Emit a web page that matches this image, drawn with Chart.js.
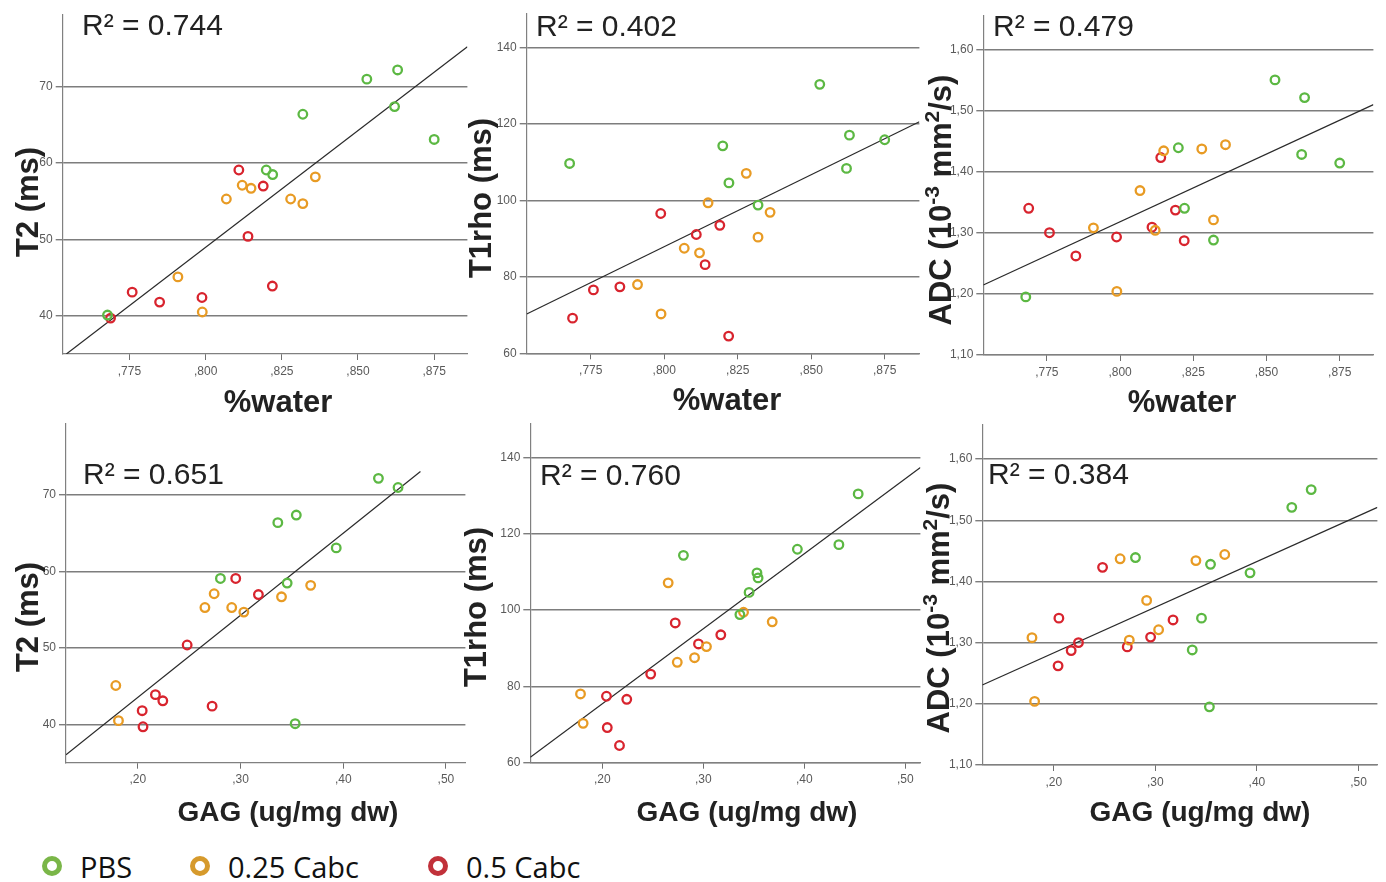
<!DOCTYPE html>
<html>
<head>
<meta charset="utf-8">
<script src="https://cdn.jsdelivr.net/npm/chart.js@4"></script>
<style>
  body { margin: 0; background: #fff; width: 1386px; height: 882px; position: relative; overflow: hidden; }
  canvas { position: absolute; }
  .leg { position: absolute; top: 846px; height: 40px; display: flex; align-items: center;
         font-family: "Open Sans", "Noto Sans", sans-serif; font-size: 29px; color: #111; }
  .leg .dot { width: 20px; height: 20px; box-sizing: border-box; border: 5px solid; border-radius: 50%; margin-right: 18px; }
</style>
</head>
<body>
<script>
// values, one entry per sample (same order in every array of a group)
const groups = ["PBS", "0.25 Cabc", "0.5 Cabc"];

const pbsWater = [0.7678, 0.8529, 0.8630, 0.8620, 0.8319, 0.8750, 0.8199, 0.8220];
const pbsGag   = [0.3532, 0.4534, 0.4343, 0.3543, 0.3363, 0.3932, 0.2804, 0.3454];
const pbsT2    = [40.1, 71.0, 72.2, 67.4, 66.4, 63.1, 59.1, 58.5];
const pbsT1rho = [109.7, 130.4, 117.1, 108.4, 98.8, 115.9, 114.3, 104.6];
const pbsAdc   = [1.195, 1.550, 1.521, 1.428, 1.288, 1.414, 1.439, 1.340];

const c25Water = [0.8068, 0.8120, 0.8149, 0.8279, 0.8319, 0.8360, 0.7909, 0.7989];
const c25Gag   = [0.2914, 0.2743, 0.3399, 0.2653, 0.3032, 0.3683, 0.1785, 0.1811];
const c25T2    = [55.3, 57.1, 56.7, 55.3, 54.7, 58.2, 45.1, 40.5];
const c25T1rho = [87.5, 86.3, 99.4, 107.1, 90.4, 96.9, 78.0, 70.3];
const c25Adc   = [1.369, 1.304, 1.434, 1.437, 1.321, 1.444, 1.308, 1.204];

const c50Water = [0.8109, 0.8189, 0.8139, 0.8219, 0.7759, 0.7849, 0.7988, 0.7688];
const c50Gag   = [0.2953, 0.3174, 0.2480, 0.2171, 0.2243, 0.2042, 0.2723, 0.2050];
const c50T2    = [59.1, 57.0, 50.4, 43.9, 43.1, 41.8, 42.4, 39.7];
const c50T1rho = [91.1, 93.5, 83.2, 64.5, 76.6, 77.4, 96.6, 69.2];
const c50Adc   = [1.309, 1.337, 1.423, 1.287, 1.300, 1.262, 1.293, 1.340];

// fit line end points: x0, y0, x1, y1
const fitT2Water    = [0.7543, 35.0, 0.8859, 75.24];
const fitT1rhoWater = [0.7532, 70.3, 0.8868, 120.6];
const fitAdcWater   = [0.7533, 1.2145, 0.8865, 1.5095];
const fitT2Gag      = [0.1300, 36.03, 0.4752, 73.1];
const fitT1rhoGag   = [0.1288, 61.4, 0.5150, 137.3];
const fitAdcGag     = [0.1296, 1.2307, 0.5186, 1.5210];

const r2Labels = ["0.744", "0.402", "0.479", "0.651", "0.760", "0.384"];

// tick labels
const waterTicks = [0.775, 0.800, 0.825, 0.850, 0.875];
const gagTicks   = [0.20, 0.30, 0.40, 0.50];
const t2Ticks    = [40, 50, 60, 70];
const t1rhoTicks = [60, 80, 100, 120, 140];
const adcTicks   = [1.10, 1.20, 1.30, 1.40, 1.50, 1.60];

const pointColors  = ["#5cb843", "#e89b24", "#d8242e"];
const legendColors = ["#7ab648", "#d69a2c", "#c1313a"];
const sans = '"Liberation Sans", Arial, sans-serif';

const fmtWater = v => "," + Math.round(v * 1000);
const fmtGag = v => "," + Math.round(v * 100);
const fmtInt = v => String(Math.round(v));
const fmtAdc = v => v.toFixed(2).replace(".", ",");

const waterX = [pbsWater, c25Water, c50Water];
const gagX = [pbsGag, c25Gag, c50Gag];

const t2Title = [{ t: "T2 (ms)" }];
const t1Title = [{ t: "T1rho (ms)" }];
const adcTitle = [{ t: "ADC (10" }, { t: "-3", sup: 1 }, { t: " mm" }, { t: "2", sup: 1 }, { t: "/s)" }];

const panels = [
  { area: [62.7, 15, 470, 354], xr: [0.7531, 0.8859], yr: [35, 79.4], xs: waterX, ys: [pbsT2, c25T2, c50T2],
    fit: fitT2Water, xt: waterTicks, yt: t2Ticks, xf: fmtWater, yf: fmtInt,
    xTitle: "%water", xSize: 31, xPos: [278, 403], yTitle: t2Title, yPos: [27, 202], r2: r2Labels[0], r2Pos: [82, 35] },
  { area: [526.7, 13.3, 921.7, 353.3], xr: [0.7532, 0.8868], yr: [60, 149], xs: waterX, ys: [pbsT1rho, c25T1rho, c50T1rho],
    fit: fitT1rhoWater, xt: waterTicks, yt: t1rhoTicks, xf: fmtWater, yf: fmtInt,
    xTitle: "%water", xSize: 31, xPos: [727, 401], yTitle: t1Title, yPos: [480, 198], r2: r2Labels[1], r2Pos: [536, 36] },
  { area: [983.3, 16, 1376, 355], xr: [0.7533, 0.8865], yr: [1.10, 1.6545], xs: waterX, ys: [pbsAdc, c25Adc, c50Adc],
    fit: fitAdcWater, xt: waterTicks, yt: adcTicks, xf: fmtWater, yf: fmtAdc,
    xTitle: "%water", xSize: 31, xPos: [1182, 403], yTitle: adcTitle, yPos: [940, 200], r2: r2Labels[2], r2Pos: [993, 36] },
  { area: [66, 423.3, 468, 762.7], xr: [0.13, 0.519], yr: [35, 79.4], xs: gagX, ys: [pbsT2, c25T2, c50T2],
    fit: fitT2Gag, xt: gagTicks, yt: t2Ticks, xf: fmtGag, yf: fmtInt,
    xTitle: "GAG (ug/mg dw)", xSize: 28, xPos: [288, 813], yTitle: t2Title, yPos: [27, 617], r2: r2Labels[3], r2Pos: [83, 484] },
  { area: [530.3, 424, 922.7, 762.7], xr: [0.1288, 0.515], yr: [60, 148.7], xs: gagX, ys: [pbsT1rho, c25T1rho, c50T1rho],
    fit: fitT1rhoGag, xt: gagTicks, yt: t1rhoTicks, xf: fmtGag, yf: fmtInt,
    xTitle: "GAG (ug/mg dw)", xSize: 28, xPos: [747, 813], yTitle: t1Title, yPos: [475, 607], r2: r2Labels[4], r2Pos: [540, 485] },
  { area: [982.3, 425, 1380, 765], xr: [0.1296, 0.5186], yr: [1.10, 1.6556], xs: gagX, ys: [pbsAdc, c25Adc, c50Adc],
    fit: fitAdcGag, xt: gagTicks, yt: adcTicks, xf: fmtGag, yf: fmtAdc,
    xTitle: "GAG (ug/mg dw)", xSize: 28, xPos: [1200, 813], yTitle: adcTitle, yPos: [938, 608], r2: r2Labels[5], r2Pos: [988, 484] }
];

function drawRich(ctx, segs, size) {
  const big = "bold " + size + "px " + sans;
  const small = "bold " + Math.round(size * 0.68) + "px " + sans;
  let total = 0;
  segs.forEach(s => { ctx.font = s.sup ? small : big; s.w = ctx.measureText(s.t).width; total += s.w; });
  let x = -total / 2;
  const base = size * 0.36;
  segs.forEach(s => {
    ctx.font = s.sup ? small : big;
    ctx.fillText(s.t, x, s.sup ? base - size * 0.38 : base);
    x += s.w;
  });
}

function textPlugin(p, ox, oy) {
  return {
    id: "panelText",
    afterDraw(chart) {
      const ctx = chart.ctx;
      ctx.save();
      ctx.fillStyle = "#222";
      ctx.textAlign = "left";
      ctx.textBaseline = "alphabetic";
      ctx.font = "30px " + sans;
      ctx.fillText("R\u00b2 = " + p.r2, p.r2Pos[0] - ox, p.r2Pos[1] - oy);
      ctx.font = "bold " + p.xSize + "px " + sans;
      ctx.textAlign = "center";
      ctx.textBaseline = "middle";
      ctx.fillText(p.xTitle, p.xPos[0] - ox, p.xPos[1] - oy);
      ctx.translate(p.yPos[0] - ox, p.yPos[1] - oy);
      ctx.rotate(-Math.PI / 2);
      ctx.textAlign = "left";
      ctx.textBaseline = "alphabetic";
      drawRich(ctx, p.yTitle, 31);
      ctx.restore();
    }
  };
}

function zeroPad(s) { s.paddingLeft = 0; s.paddingRight = 0; s.paddingTop = 0; s.paddingBottom = 0; }

panels.forEach(p => {
  const [l, t, r, b] = p.area;
  const cx = Math.floor(l) - 66, cy = Math.floor(t) - 16;
  const cw = Math.ceil(r) + 4 - cx, ch = Math.ceil(b) + 72 - cy;
  const yw = l - cx, xh = cy + ch - b;
  const cv = document.createElement("canvas");
  cv.width = cw; cv.height = ch;
  cv.style.left = cx + "px"; cv.style.top = cy + "px";
  document.body.appendChild(cv);

  const datasets = groups.map((g, i) => ({
    label: g,
    data: p.xs[i].map((x, k) => ({ x: x, y: p.ys[i][k] })),
    borderColor: pointColors[i],
    backgroundColor: "rgba(0,0,0,0)",
    pointRadius: 4.3,
    pointHoverRadius: 4.3,
    pointBorderWidth: 2.3
  }));
  datasets.push({
    label: "fit",
    data: [{ x: p.fit[0], y: p.fit[1] }, { x: p.fit[2], y: p.fit[3] }],
    showLine: true,
    borderColor: "#2a2a2a",
    borderWidth: 1.2,
    pointRadius: 0
  });

  new Chart(cv, {
    type: "scatter",
    data: { datasets: datasets },
    options: {
      responsive: false,
      animation: false,
      devicePixelRatio: 1,
      layout: { padding: { left: 0, top: t - cy, right: cx + cw - r, bottom: 0 } },
      plugins: { legend: { display: false }, tooltip: { enabled: false } },
      scales: {
        x: {
          type: "linear", min: p.xr[0], max: p.xr[1],
          afterBuildTicks: s => { s.ticks = p.xt.map(v => ({ value: v })); },
          afterFit: s => { s.height = xh; zeroPad(s); },
          ticks: { callback: p.xf, color: "#5a5a5a", font: { size: 12, family: sans }, padding: 4, autoSkip: false, maxRotation: 0 },
          grid: { drawOnChartArea: false, tickLength: 6, color: "#707070", lineWidth: 1 },
          border: { color: "#808080", width: 1.2 }
        },
        y: {
          type: "linear", min: p.yr[0], max: p.yr[1],
          afterBuildTicks: s => { s.ticks = p.yt.map(v => ({ value: v })); },
          afterFit: s => { s.width = yw; zeroPad(s); },
          ticks: { callback: p.yf, color: "#5a5a5a", font: { size: 12, family: sans }, padding: 3, autoSkip: false },
          grid: { tickLength: 7, color: "#7d7d7d", lineWidth: 1.4 },
          border: { color: "#808080", width: 1.2 }
        }
      }
    },
    plugins: [textPlugin(p, cx, cy)]
  });
});

// legend along the bottom
const legendLeft = [42, 190, 428];
groups.forEach((g, i) => {
  const d = document.createElement("div");
  d.className = "leg";
  d.style.left = legendLeft[i] + "px";
  d.innerHTML = '<span class="dot" style="border-color:' + legendColors[i] + '"></span>' + g;
  document.body.appendChild(d);
});
</script>
</body>
</html>
